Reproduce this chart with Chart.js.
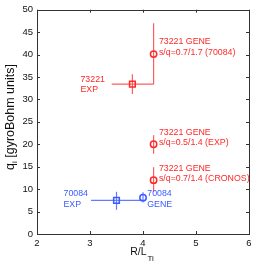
<!DOCTYPE html>
<html>
<head>
<meta charset="utf-8">
<script src="https://cdn.jsdelivr.net/npm/chart.js@4"></script>
<style>
  html, body { margin: 0; padding: 0; background: #fff; }
  #wrap { width: 256px; height: 265px; }
</style>
</head>
<body>
<div id="wrap"><canvas id="c" width="256" height="265"></canvas></div>
<script>
// data
const names  = ['73221 EXP', '73221 GENE 0.7/1.7', '73221 GENE 0.5/1.4', '73221 GENE CRONOS', '70084 EXP', '70084 GENE'];
const xVals  = [3.8, 4.2, 4.2, 4.2, 3.5, 4.0];
const yVals  = [33.4, 40.1, 20.0, 12.0, 7.5, 8.1];
const xLo    = [3.41, 4.2, 4.2, 4.2, 3.02, 4.0];
const xHi    = [4.2, 4.2, 4.2, 4.2, 4.0, 4.0];
const yLo    = [31.2, 33.4, 17.9, 9.3, 5.4, 7.0];
const yHi    = [35.6, 47.0, 22.0, 14.9, 9.4, 9.3];
const shapes = ['rect', 'circle', 'circle', 'circle', 'rect', 'circle'];
const groups = ['red', 'red', 'red', 'red', 'blue', 'blue'];
const xTicks = [2, 3, 4, 5, 6];
const yTicks = [0, 5, 10, 15, 20, 25, 30, 35, 40, 45, 50];
// annotations: [x, y, lines, colour group]
const notes = [
  [2.82, 34.5, ['73221', 'EXP'], 'red'],
  [4.3, 42.8, ['73221 GENE', 's/q=0.7/1.7 (70084)'], 'red'],
  [4.3, 22.7, ['73221 GENE', 's/q=0.5/1.4 (EXP)'], 'red'],
  [4.3, 14.6, ['73221 GENE', 's/q=0.7/1.4 (CRONOS)'], 'red'],
  [2.5, 9.0, ['70084', 'EXP'], 'blue'],
  [4.08, 9.0, ['70084', 'GENE'], 'blue']
];

const colours = { red: 'rgb(255,40,40)', blue: 'rgb(60,90,255)' };
const barColours = { red: 'rgba(255,40,40,0.75)', blue: 'rgba(60,90,255,0.8)' };
const FONT = '"Liberation Sans", Arial, sans-serif';

const points = xVals.map(function (x, i) { return { x: x, y: yVals[i] }; });

const errPlugin = {
  id: 'errbars',
  beforeDatasetsDraw(chart) {
    const c = chart.ctx, xs = chart.scales.x, ys = chart.scales.y;
    c.save();
    c.lineWidth = 1.2;
    for (let i = 0; i < xVals.length; i++) {
      c.strokeStyle = barColours[groups[i]];
      const px = xs.getPixelForValue(xVals[i]), py = ys.getPixelForValue(yVals[i]);
      c.beginPath();
      c.moveTo(xs.getPixelForValue(xLo[i]), py);
      c.lineTo(xs.getPixelForValue(xHi[i]), py);
      c.moveTo(px, ys.getPixelForValue(yLo[i]));
      c.lineTo(px, ys.getPixelForValue(yHi[i]));
      c.stroke();
    }
    c.restore();
  },
  afterDraw(chart) {
    const c = chart.ctx, xs = chart.scales.x, ys = chart.scales.y;
    const a = chart.chartArea;
    c.save();
    // frame
    c.strokeStyle = '#333';
    c.lineWidth = 1;
    c.strokeRect(Math.round(a.left) + 0.5, Math.round(a.top) + 0.5, Math.round(a.right - a.left), Math.round(a.bottom - a.top));
    // inward ticks
    c.beginPath();
    xTicks.forEach(function (t) {
      const p = Math.round(xs.getPixelForValue(t)) + 0.5;
      c.moveTo(p, a.bottom); c.lineTo(p, a.bottom - 3);
      c.moveTo(p, a.top); c.lineTo(p, a.top + 3);
    });
    yTicks.forEach(function (t) {
      const p = Math.round(ys.getPixelForValue(t)) + 0.5;
      c.moveTo(a.left, p); c.lineTo(a.left + 3, p);
      c.moveTo(a.right, p); c.lineTo(a.right - 3, p);
    });
    c.stroke();
    // annotations
    c.font = '8.8px ' + FONT;
    c.textBaseline = 'middle';
    c.textAlign = 'left';
    notes.forEach(function (n) {
      c.fillStyle = colours[n[3]];
      const px = xs.getPixelForValue(n[0]), py = ys.getPixelForValue(n[1]);
      n[2].forEach(function (s, k) { c.fillText(s, px, py + k * 10.5); });
    });
    // axis titles
    c.fillStyle = '#111';
    c.font = '10.5px ' + FONT;
    c.textAlign = 'left';
    c.textBaseline = 'alphabetic';
    const xt = 'R/L';
    const w1 = c.measureText(xt).width;
    c.font = '8px ' + FONT;
    const w2 = c.measureText('Ti').width;
    const x0 = (a.left + a.right) / 2 - (w1 + w2) / 2 - 1.5;
    c.font = '10.5px ' + FONT;
    c.fillText(xt, x0, 255);
    c.font = '8px ' + FONT;
    c.fillText('Ti', x0 + w1 + 1, 261);

    c.translate(14, 117);
    c.rotate(-Math.PI / 2);
    c.font = '12.5px ' + FONT;
    const q = 'q';
    const rest = ' [gyroBohm units]';
    const wq = c.measureText(q).width, wr = c.measureText(rest).width;
    c.font = '8px ' + FONT;
    const wi = c.measureText('i').width;
    let sx = -(wq + wi + wr) / 2;
    c.font = '12.5px ' + FONT;
    c.fillText(q, sx, 0);
    c.font = '8px ' + FONT;
    c.fillText('i', sx + wq, 3);
    c.font = '12.5px ' + FONT;
    c.fillText(rest, sx + wq + wi, 0);
    c.restore();
  }
};

new Chart(document.getElementById('c').getContext('2d'), {
  type: 'scatter',
  data: {
    datasets: [{
      data: points,
      pointStyle: shapes,
      pointRadius: shapes.map(function (s) { return s === 'rect' ? 4 : 3.2; }),
      pointBorderWidth: 1.5,
      pointBackgroundColor: 'rgba(0,0,0,0)',
      pointBorderColor: groups.map(function (g) { return colours[g]; }),
      showLine: false
    }]
  },
  plugins: [errPlugin],
  options: {
    responsive: false,
    animation: false,
    events: [],
    layout: { padding: { top: 9, right: 7, left: 0, bottom: 0 } },
    plugins: { legend: { display: false }, tooltip: { enabled: false } },
    scales: {
      x: {
        type: 'linear', min: 2, max: 6,
        afterBuildTicks: function (s) { s.ticks = xTicks.map(function (v) { return { value: v }; }); },
        afterFit: function (s) { s.height = 31; },
        grid: { display: false, drawTicks: false },
        border: { display: false },
        ticks: { color: '#111', font: { family: FONT, size: 9.5 }, padding: 4, maxRotation: 0 }
      },
      y: {
        type: 'linear', min: 0, max: 50,
        afterBuildTicks: function (s) { s.ticks = yTicks.map(function (v) { return { value: v }; }); },
        afterFit: function (s) { s.width = 37; },
        grid: { display: false, drawTicks: false },
        border: { display: false },
        ticks: { color: '#111', font: { family: FONT, size: 9.5 }, padding: 4 }
      }
    }
  }
});
</script>
</body>
</html>
